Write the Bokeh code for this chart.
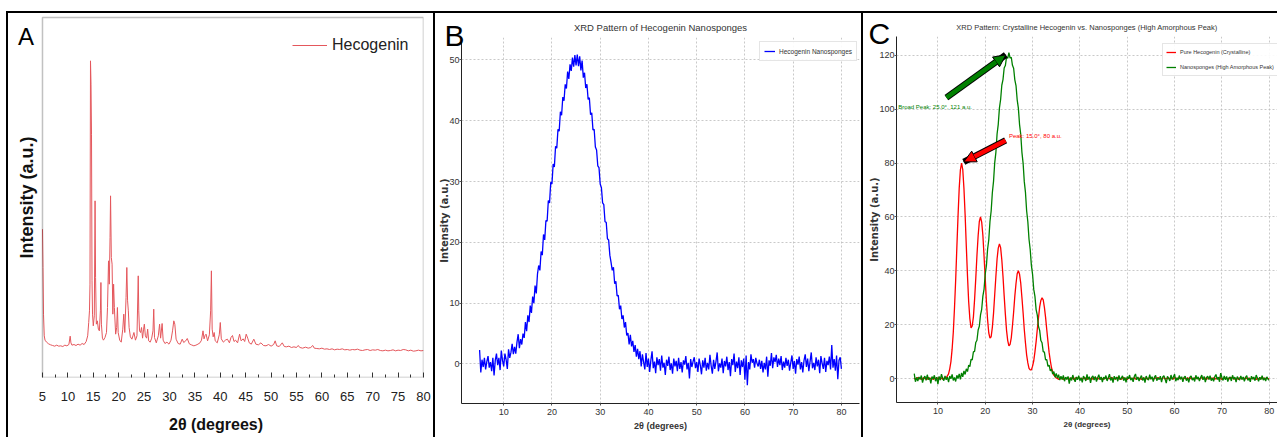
import numpy as np
from bokeh.plotting import figure
from bokeh.layouts import row, column
from bokeh.models import (Range1d, SingleIntervalTicker, FixedTicker, Legend, LegendItem,
                          Label, BoxAnnotation, Arrow, NormalHead, Title, Div, Spacer)
from bokeh.embed import file_html
from bokeh.resources import INLINE

# ---------------- Panel A : crystalline hecogenin (arbitrary counts) ----------------
two_theta_a = [5.0, 5.1, 5.2, 5.35, 5.5, 5.8, 6.2, 6.6, 7.0, 7.4, 7.8, 8.2, 8.6, 9.0, 9.4, 9.8,
               10.2, 10.45, 10.6, 10.8, 11.2, 11.6, 12.0, 12.4, 12.8, 13.2, 13.6, 13.9, 14.1, 14.25,
               14.35, 14.45, 14.55, 14.65, 14.75, 14.85, 15.0, 15.2, 15.35, 15.45, 15.6, 15.8, 16.0,
               16.2, 16.4, 16.5, 16.6, 16.8, 17.0, 17.3, 17.6, 17.8, 18.0, 18.15, 18.3, 18.4, 18.55,
               18.7, 18.85, 19.0, 19.15, 19.4, 19.6, 19.75, 19.9, 20.2, 20.5, 20.8, 21.0, 21.2, 21.45,
               21.6, 21.75, 21.9, 22.05, 22.3, 22.6, 22.8, 23.0, 23.3, 23.6, 23.85, 23.95, 24.1, 24.3,
               24.5, 24.7, 24.9, 25.05, 25.25, 25.5, 25.7, 25.9, 26.2, 26.5, 26.75, 26.9, 27.05, 27.4,
               27.8, 28.05, 28.25, 28.55, 28.75, 29.1, 29.5, 29.9, 30.3, 30.6, 30.85, 31.05, 31.3,
               31.7, 32.1, 32.5, 32.8, 33.2, 33.5, 33.9, 34.3, 34.8, 35.2, 35.6, 36.0, 36.3, 36.6,
               36.8, 37.0, 37.2, 37.5, 37.85, 38.1, 38.25, 38.4, 38.6, 38.8, 39.0, 39.4, 39.8, 40.0,
               40.2, 40.6, 41.0, 41.4, 41.8, 42.1, 42.4, 42.7, 43.0, 43.4, 43.8, 44.1, 44.5, 44.8,
               45.1, 45.4, 45.7, 46.1, 46.6, 47.0, 47.5, 48.0, 48.5, 49.0, 49.5, 50.0, 50.5, 50.8,
               51.1, 51.6, 52.2, 52.6, 53.0, 53.5, 54.0, 54.5, 55.0, 55.3, 55.7, 56.2, 56.8, 57.3,
               57.8, 58.2, 58.5, 59.0, 59.5, 60.0, 60.5, 61.0, 61.5, 62.0, 62.5, 63.0, 63.5, 64.0,
               64.5, 65.0, 65.5, 66.0, 66.5, 67.0, 67.5, 68.0, 68.5, 69.0, 69.5, 70.0, 70.5, 71.0,
               71.5, 72.0, 72.5, 73.0, 73.5, 74.0, 74.5, 75.0, 75.5, 76.0, 76.5, 77.0, 77.5, 78.0,
               78.5, 79.0, 79.5, 80.0]
intensity_a = [445, 330, 190, 125, 112, 106, 101, 98, 96, 94, 97, 94, 95, 93, 97, 95,
               99, 124, 104, 97, 99, 96, 100, 97, 102, 99, 108, 125, 165, 200,
               280, 950, 880, 730, 290, 190, 155, 185, 530, 300, 160, 170, 145,
               140, 200, 285, 160, 118, 112, 120, 135, 210, 350, 280, 420, 545, 360,
               340, 190, 280, 210, 130, 150, 210, 135, 112, 106, 145, 190, 135, 240,
               330, 230, 200, 150, 122, 115, 125, 135, 112, 125, 305, 200, 140, 135,
               150, 118, 145, 160, 125, 118, 145, 110, 106, 118, 140, 205, 120, 104,
               125, 160, 118, 162, 112, 102, 106, 100, 112, 140, 170, 160, 115,
               102, 100, 115, 105, 110, 117, 101, 98, 95, 97, 100, 104, 112, 140,
               116, 126, 130, 110, 128, 200, 320, 145, 122, 135, 110, 104, 128, 165,
               116, 106, 112, 115, 104, 120, 126, 108, 112, 104, 130, 110, 116, 108,
               130, 118, 104, 100, 115, 100, 98, 104, 96, 95, 99, 94, 99, 110,
               95, 93, 104, 93, 92, 94, 90, 92, 90, 96, 90, 88, 91, 88,
               90, 96, 88, 87, 86, 88, 85, 86, 84, 86, 83, 85, 84, 86,
               83, 84, 82, 84, 83, 85, 82, 81, 83, 84, 81, 83, 82, 84,
               81, 80, 82, 80, 81, 83, 80, 82, 81, 84, 83, 80, 82, 79,
               80, 82, 80, 81]
ticks_a = list(range(5, 85, 5))

# ---------------- Panel B : nanosponges, sampled every 0.25 deg from 5 to 80 ----------------
theta_start, theta_step = 5.0, 0.25
intensity_b = [
    2.3, -1.4, 0.7, -0.5, 1.0, -0.9, 0.4, 1.3,
    -0.6, 0.3, -1.2, 1.0, -1.9, 0.6, 1.7, -0.2,
    1.0, -1.0, 2.2, 0.6, -0.4, 1.7, 0.7, -0.8,
    2.4, 1.0, 1.9, 3.3, 1.6, 2.8, 1.7, 3.6,
    4.9, 2.6, 4.1, 3.2, 5.0, 4.3, 6.9, 5.4,
    8.0, 6.9, 9.6, 8.4, 11.1, 10.0, 12.9, 11.6,
    14.8, 16.2, 15.4, 18.5, 17.9, 21.3, 20.4, 23.6,
    23.5, 26.9, 26.5, 29.9, 29.6, 32.9, 32.4, 35.8,
    35.5, 38.6, 38.3, 41.5, 40.9, 43.9, 43.3, 46.0,
    45.3, 48.1, 46.9, 49.3, 48.2, 50.4, 48.9, 50.8,
    49.1, 50.9, 49.0, 50.6, 48.3, 49.9, 47.1, 47.9,
    45.4, 46.0, 43.5, 43.8, 41.0, 41.3, 38.5, 38.6,
    35.7, 35.2, 32.6, 32.3, 29.6, 29.0, 26.5, 26.2,
    23.4, 23.3, 20.6, 20.4, 17.9, 16.7, 15.4, 15.9,
    13.2, 13.6, 11.2, 11.3, 9.0, 9.6, 7.4, 8.0,
    6.0, 6.9, 4.7, 5.1, 3.2, 4.8, 2.9, 3.8,
    2.0, 3.1, 1.2, 2.5, 0.8, 2.1, -0.4, 1.6,
    0.3, -0.9, 1.8, -0.5, 0.9, -1.3, 0.6, 2.1,
    -0.7, 0.4, -1.5, 1.1, -0.2, 0.8, -1.1, 1.4,
    -0.6, 0.2, -1.8, 0.7, -0.3, 1.2, -1.0, 0.1,
    -1.6, 0.9, -0.4, 0.5, -1.2, 1.0, -0.8, 0.3,
    -1.4, 0.6, -0.1, 1.3, -0.9, 0.2, -2.4, 0.8,
    -0.5, 0.4, 1.1, -0.7, 0.3, -1.3, 0.9, -0.2,
    -1.7, 0.6, -0.6, 1.0, -1.1, 0.2, -0.9, 1.5,
    -0.3, -1.6, 0.7, -0.8, 0.4, 1.9, -1.2, 0.1,
    -0.6, 0.9, -1.5, 0.5, -0.4, 1.2, -1.0, 0.3,
    -2.0, 0.8, -0.2, 1.7, -1.3, 0.4, -0.7, 1.1,
    -1.8, 0.6, -0.5, 0.9, -2.6, 1.4, -3.5, 0.3,
    -0.9, 1.6, 0.2, 0.8, -0.6, 1.0, 0.1, -0.4,
    0.7, -0.8, 0.5, -1.4, 0.2, -0.9, 1.2, -2.1,
    0.6, -0.3, 1.8, -0.7, 1.1, 0.3, 1.5, -0.5,
    0.9, -0.2, 1.3, -1.0, 0.4, -0.6, 1.0, -0.3,
    0.7, -1.1, 0.2, 1.4, -0.8, 0.5, -1.6, 0.8,
    -0.1, 1.2, -0.9, 0.3, -1.4, 0.6, 1.6, -0.5,
    0.9, -1.2, 0.4, 1.9, -0.7, 0.2, -1.0, 1.1,
    -0.4, 0.7, -1.5, 1.3, 0.1, -0.8, 1.0, -1.3,
    0.5, -0.2, 1.2, -0.9, 3.1, -0.6, 0.8, -1.1,
    1.4, -2.5, 0.6, 1.1, -0.8]

# ---------------- Panel C : same 0.25 deg sampling ----------------
intensity_pure = [
    0.2, -0.3, 0.1, 0.4, -0.2, 0.3, -0.4, 0.1,
    0.3, -0.1, 0.2, -0.3, 0.4, -0.2, 0.1, 0.3,
    -0.4, 0.2, 0.0, 0.3, -0.2, 0.4, -0.1, 0.2,
    -0.3, 0.1, 0.4, 0.3, 1.0, 1.7, 3.6, 6.3,
    10.9, 17.2, 26.1, 36.5, 48.6, 60.3, 70.7, 77.5,
    80.0, 77.6, 70.6, 60.8, 49.1, 38.1, 28.5, 22.2,
    18.8, 19.5, 22.9, 29.4, 37.2, 45.8, 53.0, 58.3,
    60.0, 58.1, 53.2, 45.4, 37.1, 28.5, 21.8, 16.9,
    15.0, 15.5, 19.0, 24.2, 31.1, 38.0, 44.4, 48.4,
    50.0, 48.6, 44.1, 38.0, 30.7, 23.9, 17.9, 14.1,
    12.1, 12.7, 15.1, 19.6, 24.7, 30.6, 35.3, 38.9,
    40.0, 38.7, 35.4, 30.1, 24.4, 18.2, 13.2, 8.7,
    5.8, 3.8, 3.2, 3.2, 4.6, 6.6, 9.9, 13.7,
    18.3, 22.5, 26.6, 29.0, 30.0, 29.2, 26.4, 22.7,
    18.1, 13.8, 9.6, 6.6, 4.0, 2.5, 1.2, 0.8,
    0.2, 0.0, -0.3, 0.2, -0.1, 0.3, -0.4, 0.1,
    0.2, -0.2, 0.4, -0.1, -0.3, 0.2, 0.1, -0.4,
    0.3, -0.1, 0.2, 0.4, -0.2, 0.1, -0.3, 0.2,
    -0.1, 0.3, -0.4, 0.2, 0.1, -0.2, 0.3, -0.3,
    0.4, -0.1, 0.2, -0.3, 0.1, 0.3, -0.2, 0.0,
    -0.3, 0.2, 0.1, -0.4, 0.3, -0.1, 0.2, 0.4,
    -0.2, 0.1, -0.3, 0.2, 0.4, -0.1, 0.0, -0.3,
    0.2, 0.3, -0.2, 0.1, -0.4, 0.2, 0.3, -0.1,
    0.1, -0.3, 0.4, -0.2, 0.0, 0.3, -0.1, 0.2,
    -0.4, 0.1, 0.2, -0.2, 0.3, -0.3, 0.1, 0.4,
    -0.1, 0.2, -0.3, 0.0, 0.3, -0.2, 0.4, -0.1,
    0.2, -0.4, 0.1, 0.3, -0.2, 0.1, -0.1, 0.3,
    -0.3, 0.2, 0.0, -0.2, 0.4, 0.1, -0.3, 0.2,
    0.1, -0.1, 0.3, -0.4, 0.2, 0.0, -0.2, 0.3,
    -0.2, 0.4, -0.1, 0.1, -0.3, 0.2, 0.3, -0.1,
    0.2, -0.3, 0.1, 0.4, -0.2, 0.0, 0.2, -0.4,
    0.3, 0.1, -0.2, 0.2, -0.1, 0.3, -0.3, 0.1,
    0.0, -0.2, 0.4, 0.2, -0.4, 0.1, 0.3, -0.1,
    0.2, -0.3, 0.1, -0.1, 0.3, 0.4, -0.2, 0.0,
    -0.1, 0.2, -0.4, 0.3, 0.1, -0.2, 0.2, -0.3,
    0.4, 0.0, -0.1, 0.2, -0.3, 0.1, 0.3, -0.2,
    0.1, -0.4, 0.2, 0.0, -0.2, 0.3, -0.1, 0.2,
    -0.3, 0.1, 0.2, -0.1, 0.0]
intensity_nano = [
    1.8, -1.2, 0.4, -0.9, 0.6, -0.3, 1.1, -1.5,
    0.2, 0.9, -0.7, 1.4, -0.4, 0.3, -1.8, 0.7,
    -0.2, 1.2, -1.0, 0.5, -2.1, 0.8, -0.6, 1.6,
    0.1, -0.8, 1.0, -0.5, 0.6, -1.3, 0.9, -0.1,
    1.5, -0.7, 0.4, -1.1, 1.2, 0.0, 1.7, -0.3,
    2.1, 0.6, 2.8, 1.5, 3.6, 2.6, 5.0, 4.4,
    7.1, 6.9, 9.9, 10.1, 13.4, 14.2, 18.0, 19.4,
    23.6, 25.7, 30.6, 33.2, 38.8, 42.0, 48.1, 51.6,
    58.3, 62.2, 69.0, 73.2, 80.1, 84.0, 90.8, 94.4,
    100.5, 103.6, 108.9, 111.0, 115.3, 116.2, 119.4, 118.9,
    121.0, 119.0, 119.3, 116.3, 115.2, 110.9, 108.8, 103.5,
    100.4, 94.3, 90.7, 84.0, 80.0, 73.1, 69.1, 62.2,
    58.2, 51.7, 47.9, 42.0, 38.7, 33.1, 30.5, 25.6,
    23.5, 19.3, 17.9, 14.1, 13.3, 10.0, 9.8, 6.9,
    7.0, 4.5, 5.0, 2.8, 3.5, 1.6, 2.6, 0.5,
    1.9, 0.2, 1.4, -0.6, 0.9, -0.4, 1.2, -1.0,
    0.5, -0.3, 0.8, -1.9, 0.4, -0.7, 1.3, -0.2,
    -1.2, 0.6, -0.5, 1.1, -0.8, 0.3, -1.4, 0.9,
    0.2, -0.9, 1.5, -0.4, 0.7, -1.6, 0.4, 1.0,
    -0.6, 0.8, -1.1, 0.3, 1.4, -0.5, 0.6, -1.3,
    0.5, -0.2, 1.1, -0.9, 0.3, 1.6, -0.7, 0.4,
    -1.5, 0.9, -0.3, 0.6, -1.0, 1.2, -0.4, 0.2,
    1.0, -0.8, 0.4, -1.4, 0.7, -0.1, 1.3, -0.6,
    0.3, -1.2, 0.8, 1.7, -0.5, 0.6, -0.9, 0.2,
    1.1, -0.7, 0.4, -1.5, 0.9, 0.0, -0.6, 1.4,
    -0.3, 0.7, -1.1, 0.5, 1.2, -0.8, 0.3, -0.4,
    0.9, -1.3, 0.6, 1.0, -0.2, -1.7, 0.8, 0.1,
    -0.9, 1.3, -0.4, 0.6, 1.6, -1.0, 0.3, -0.6,
    1.1, -0.3, 0.7, -1.2, 0.4, 0.9, -0.8, 0.2,
    -1.4, 0.5, 1.0, -0.6, 0.3, -1.1, 1.2, -0.2,
    0.6, -0.9, 0.4, 1.3, -0.5, 0.8, -1.3, 0.3,
    0.9, -0.4, 1.1, -0.8, 0.2, -1.0, 0.7, 1.5,
    -0.3, 0.5, -1.2, 2.0, 0.4, -0.7, 1.0, -0.5,
    0.8, -1.1, 0.3, 0.6, -0.9, 1.2, -0.2, 0.5,
    -1.3, 0.7, 0.1, -0.6, 1.0, -0.4, 0.6, -1.0,
    0.4, 1.1, -0.7, 0.2, -1.2, 0.9, -0.3, 0.6,
    -0.8, 1.3, 0.2, -1.0, 0.5, -0.4, 1.1, -0.6,
    0.3, -0.9, 0.6, -0.2, -0.7]

two_theta_b = theta_start + theta_step * np.arange(len(intensity_b))
two_theta_pure = theta_start + theta_step * np.arange(len(intensity_pure))
two_theta_nano = theta_start + theta_step * np.arange(len(intensity_nano))

SANS = "Liberation Sans"
TXT = "#333333"
H = 424  # canvas height below the top border line


def letter_title(p, letter, offset, standoff):
    p.add_layout(Title(text=letter, align="left", vertical_align="bottom", offset=offset,
                       standoff=standoff, text_font=SANS, text_font_size="30px",
                       text_font_style="normal", text_color="black"), "above")


def chart_title(p, text, size, standoff):
    p.add_layout(Title(text=text, align="center", vertical_align="bottom", standoff=standoff,
                       text_font=SANS, text_font_size=size, text_font_style="normal",
                       text_color=TXT), "above")


# ================= Panel A =================
pA = figure(width=425, height=H, x_range=Range1d(-1.69, 80), y_range=Range1d(0, 1092),
            output_backend="svg", toolbar_location=None, frame_align=False,
            min_border_left=0, min_border_right=10, min_border_top=0, min_border_bottom=60)
pA.grid.visible = False
pA.outline_line_color = None
pA.yaxis.visible = False
pA.xaxis.ticker = FixedTicker(ticks=ticks_a, minor_ticks=[t + 2.5 for t in ticks_a[:-1]])
pA.xaxis.axis_line_color = None
pA.xaxis.major_tick_in = 5
pA.xaxis.major_tick_out = 0
pA.xaxis.minor_tick_in = 3
pA.xaxis.minor_tick_out = 0
pA.xaxis.major_tick_line_color = "#333333"
pA.xaxis.minor_tick_line_color = "#333333"
pA.xaxis.major_label_standoff = 14
pA.xaxis.major_label_text_font = SANS
pA.xaxis.major_label_text_font_size = "13px"
pA.xaxis.major_label_text_color = "#222222"
pA.xaxis.axis_label = "2θ (degrees)"
pA.xaxis.axis_label_text_font = SANS
pA.xaxis.axis_label_text_font_style = "bold"
pA.xaxis.axis_label_text_font_size = "16px"
pA.xaxis.axis_label_text_color = "#111111"
pA.xaxis.axis_label_standoff = 12
# plot box of the data area (5..80 deg, full intensity span)
pA.add_layout(BoxAnnotation(left=ticks_a[0], right=ticks_a[-1], bottom=0, top=1080,
                            fill_alpha=0, line_color="#333333", line_width=1.5))
lineA = pA.line(two_theta_a, intensity_a, line_color="#e4575c", line_width=1)
pA.add_layout(Label(x=2.05, y=540, angle=np.pi / 2, text="Intensity (a.u.)",
                    text_align="center", text_baseline="middle", text_font=SANS,
                    text_font_size="18px", text_font_style="bold", text_color="#111111"))
pA.add_layout(Label(x=1.75, y=1024, text="A", text_align="center", text_baseline="middle",
                    text_font=SANS, text_font_size="24px", text_color="black"))
legA = Legend(items=[LegendItem(label="Hecogenin", renderers=[lineA])], location=(284, 322),
              label_text_font=SANS, label_text_font_size="16px", label_text_color="#222222",
              glyph_width=35, glyph_height=20, label_height=20, label_standoff=5,
              padding=0, margin=0, border_line_color=None, background_fill_alpha=0)
pA.add_layout(legA)

# ================= Panel B =================
pB = figure(width=426, height=H, x_range=Range1d(1.25, 83.75), y_range=Range1d(-6.5, 53.7),
            output_backend="svg", toolbar_location=None, frame_align=False,
            min_border_left=26, min_border_right=2, min_border_top=24, min_border_bottom=34)
letter_title(pB, "B", -17, -28)
chart_title(pB, "XRD Pattern of Hecogenin Nanosponges", "9.5px", -4)

# ================= Panel C =================
pC = figure(width=414, height=H, x_range=Range1d(1.25, 81.75), y_range=Range1d(-8.9, 127),
            output_backend="svg", toolbar_location=None, frame_align=False,
            min_border_left=33, min_border_right=0, min_border_top=23, min_border_bottom=35)
letter_title(pC, "C", -28, -27)
chart_title(pC, "XRD Pattern: Crystalline Hecogenin vs. Nanosponges (High Amorphous Peak)",
            "7.5px", -6)

for p, lab_size in ((pB, "9px"), (pC, "8px")):
    p.outline_line_color = None
    p.xaxis.ticker = SingleIntervalTicker(interval=10)
    p.yaxis.ticker = SingleIntervalTicker(interval=20 if p is pC else 10)
    p.grid.grid_line_color = "#bbbbbb"
    p.grid.grid_line_dash = "2 2"
    p.grid.grid_line_alpha = 0.8
    p.axis.axis_line_color = "#222222"
    p.axis.major_tick_line_color = "#555555"
    p.axis.major_tick_in = 0
    p.axis.major_tick_out = 2
    p.axis.minor_tick_line_color = None
    p.axis.major_label_text_font = SANS
    p.axis.major_label_text_font_size = "9px"
    p.axis.major_label_text_color = TXT
    p.xaxis.major_label_standoff = 1
    p.yaxis.major_label_standoff = -2
    p.xaxis.axis_label = "2θ (degrees)"
    p.xaxis.axis_label_text_font = SANS
    p.xaxis.axis_label_text_font_style = "bold"
    p.xaxis.axis_label_text_font_size = lab_size
    p.xaxis.axis_label_text_color = TXT
    p.xaxis.axis_label_standoff = 3
    p.yaxis.axis_label = "Intensity (a.u.)"
    p.yaxis.axis_label_text_font = "DejaVu Sans"
    p.yaxis.axis_label_text_font_style = "bold"
    p.yaxis.axis_label_text_font_size = "10px"
    p.yaxis.axis_label_text_color = TXT
    p.yaxis.axis_label_standoff = -4

lineB = pB.line(two_theta_b, intensity_b, line_color="blue", line_width=1.3)
legB = Legend(items=[LegendItem(label="Hecogenin Nanosponges", renderers=[lineB])],
              location=(298, 342), label_text_font=SANS, label_text_font_size="6.5px",
              label_text_color=TXT, glyph_width=11, glyph_height=10, label_height=10,
              label_standoff=4, padding=4, margin=0, spacing=0,
              border_line_color="#cccccc", border_line_width=1, background_fill_alpha=0.9)
pB.add_layout(legB)

line_pure = pC.line(two_theta_pure, intensity_pure, line_color="red", line_width=1.3)
line_nano = pC.line(two_theta_nano, intensity_nano, line_color="green", line_width=1.3)
legC = Legend(items=[LegendItem(label="Pure Hecogenin (Crystalline)", renderers=[line_pure]),
                     LegendItem(label="Nanosponges (High Amorphous Peak)", renderers=[line_nano])],
              location=(266, 326), label_text_font=SANS, label_text_font_size="5.5px",
              label_text_color=TXT, glyph_width=10, glyph_height=10, label_height=10,
              label_standoff=4, padding=3, margin=0, spacing=5,
              border_line_color="#cccccc", border_line_width=1, background_fill_alpha=0.9)
pC.add_layout(legC)

# annotations: arrow heads point at each series' maximum (shrunk 5% toward the text)
i_nano = int(np.argmax(intensity_nano))
i_pure = int(np.argmax(intensity_pure))
peak_nano = (float(two_theta_nano[i_nano]), intensity_nano[i_nano])
peak_pure = (float(two_theta_pure[i_pure]), intensity_pure[i_pure])
tail_nano = (11.8, 104.3)
tail_pure = (24.3, 88.4)
text_nano = (1.6, peak_nano[1] - 20)
text_pure = (peak_pure[0] + 10, peak_pure[1] + 10)


def shrink(peak, tail, f=0.05):
    return peak[0] + f * (tail[0] - peak[0]), peak[1] + f * (tail[1] - peak[1])


for peak, tail, col in ((peak_nano, tail_nano, "green"), (peak_pure, tail_pure, "red")):
    hx, hy = shrink(peak, tail)
    pC.add_layout(Arrow(end=None, x_start=tail[0], y_start=tail[1], x_end=hx, y_end=hy,
                        line_color="black", line_width=6.5))
    pC.add_layout(Arrow(end=NormalHead(size=12, fill_color=col, line_color="black", line_width=1),
                        x_start=tail[0], y_start=tail[1], x_end=hx, y_end=hy,
                        line_color=col, line_width=4.5))

pC.add_layout(Label(x=text_nano[0], y=text_nano[1],
                    text=f"Broad Peak: {peak_nano[0]:.1f}°, {peak_nano[1]:.0f} a.u.",
                    text_font=SANS, text_font_size="6px", text_color="green",
                    text_align="left", text_baseline="alphabetic"))
pC.add_layout(Label(x=text_pure[0], y=text_pure[1],
                    text=f"Peak: {peak_pure[0]:.1f}°, {peak_pure[1]:.0f} a.u.",
                    text_font=SANS, text_font_size="6px", text_color="red",
                    text_align="left", text_baseline="alphabetic"))


def bar(w, h):
    return Div(text="", width=w, height=h, margin=0, styles={"background-color": "black"})


top_line = row(Spacer(width=6, height=2, margin=0), bar(1271, 2), spacing=0)
panels = row(Spacer(width=6, height=H, margin=0), bar(2, H), pA, bar(2, H), pB, bar(2, H), pC,
             spacing=0)
layout = column(Spacer(width=1277, height=11, margin=0), top_line, panels, spacing=0)
open("out.html", "w").write(file_html(layout, INLINE))
